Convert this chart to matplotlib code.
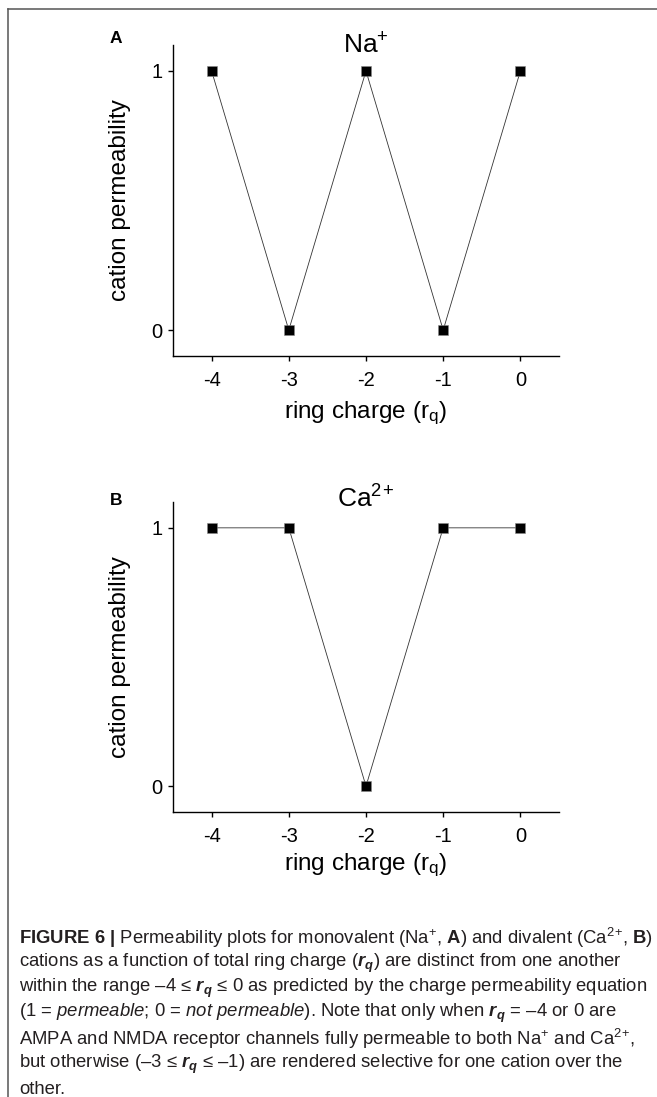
"""Figure 6 — Na+ / Ca2+ permeability vs ring charge, with caption."""

import matplotlib
matplotlib.use("Agg")
import matplotlib.pyplot as plt
from matplotlib.lines import Line2D

# ── Data ─────────────────────────────────────────────────────────────────────
charge     = [-4, -3, -2, -1, 0]
na_perm    = [1, 0, 1, 0, 1]
ca_perm    = [1, 1, 0, 1, 1]
xtick_lbls = ["-4", "-3", "-2", "-1", "0"]
yticks     = [0, 1]

panels  = ["A", "B"]
titles  = ["Na$^{+}$", "Ca$^{2}$$^{+}$"]
ylabel  = "cation permeability"
xlabel  = "ring charge (r$_{\\mathrm{q}}$)"

RQ = r"$\mathbfit{r}_{\mathbfit{q}}$"
caption = [
    r"$\mathbf{FIGURE\ 6\ |}$ Permeability plots for monovalent (Na$^{+}$, $\mathbf{A}$) and divalent (Ca$^{2}$$^{+}$, $\mathbf{B}$)",
    f"cations as a function of total ring charge ({RQ}) are distinct from one another",
    f"within the range \u20134 \u2264 {RQ} \u2264 0 as predicted by the charge permeability equation",
    r"(1 = $\mathit{permeable}$; 0 = $\mathit{not\ permeable}$). Note that only when " + RQ + " = \u20134 or 0 are",
    "AMPA and NMDA receptor channels fully permeable to both Na$^{+}$ and Ca$^{2}$$^{+}$,",
    f"but otherwise (\u20133 \u2264 {RQ} \u2264 \u20131) are rendered selective for one cation over the",
    "other.",
]

# ── Fonts ────────────────────────────────────────────────────────────────────
SANS = "Liberation Sans"
plt.rcParams["font.family"] = [SANS, "DejaVu Sans"]
plt.rcParams["mathtext.fontset"] = "custom"
plt.rcParams["mathtext.rm"] = SANS
plt.rcParams["mathtext.it"] = SANS + ":italic"
plt.rcParams["mathtext.bf"] = SANS + ":bold"
plt.rcParams["mathtext.bfit"] = SANS + ":bold:italic"

W, H = 657, 1097
fig = plt.figure(figsize=(W / 100, H / 100), dpi=100)

def fx(px):  return px / W
def fy(py):  return 1 - py / H

# frame: top and left rules
fig.add_artist(Line2D([fx(8), 1], [fy(9), fy(9)], color="#555555", lw=1.1))
fig.add_artist(Line2D([fx(8), fx(8)], [fy(9), 0], color="#555555", lw=1.1))

# axes boxes in pixels: (left, top, right, bottom)
boxes    = [(173, 45, 559, 356), (173, 502, 559, 812)]
title_y  = [53, 508]
letter_y = [43, 505]
xlab_off = [-0.184, -0.172]

for i, perm in enumerate([na_perm, ca_perm]):
    l, t, r, b = boxes[i]
    ax = fig.add_axes([fx(l), fy(b), fx(r) - fx(l), fy(t) - fy(b)])
    ax.plot(charge, perm, color="#333333", lw=0.6, zorder=2)
    ax.plot(charge, perm, ls="none", marker="s", ms=7.2, mfc="black",
            mec="#888888", mew=0.4, zorder=3)
    ax.set_xlim(-4.5, 0.5)
    ax.set_ylim(-0.1, 1.1)
    ax.set_xticks(charge)
    ax.set_xticklabels(xtick_lbls)
    ax.set_yticks(yticks)
    for s in ["top", "right"]:
        ax.spines[s].set_visible(False)
    for s in ["left", "bottom"]:
        ax.spines[s].set_linewidth(1.0)
    ax.tick_params(direction="out", length=3.5, width=1.0, labelsize=14.5)
    ax.tick_params(axis="x", pad=7)
    ax.tick_params(axis="y", pad=4)
    ax.set_ylabel(ylabel, fontsize=17.5)
    ax.yaxis.label.set_va("center")
    ax.yaxis.set_label_coords(-0.137, 0.5)
    ax.set_xlabel(xlabel, fontsize=17.5)
    ax.xaxis.label.set_va("center")
    ax.xaxis.set_label_coords(0.5, xlab_off[i])

    fig.text(fx((l + r) / 2), fy(title_y[i]), titles[i], fontsize=19,
             ha="center", va="baseline")
    fig.text(fx(110), fy(letter_y[i]), panels[i], fontsize=12.5,
             fontweight="bold", ha="left", va="baseline")

# ── Caption ──────────────────────────────────────────────────────────────────
for k, line in enumerate(caption):
    fig.text(fx(19), fy(938 + 25.2 * k), line, fontsize=13.3,
             color="#231f20", ha="left", va="center")

plt.savefig("out.png", dpi=100)
plt.close()
